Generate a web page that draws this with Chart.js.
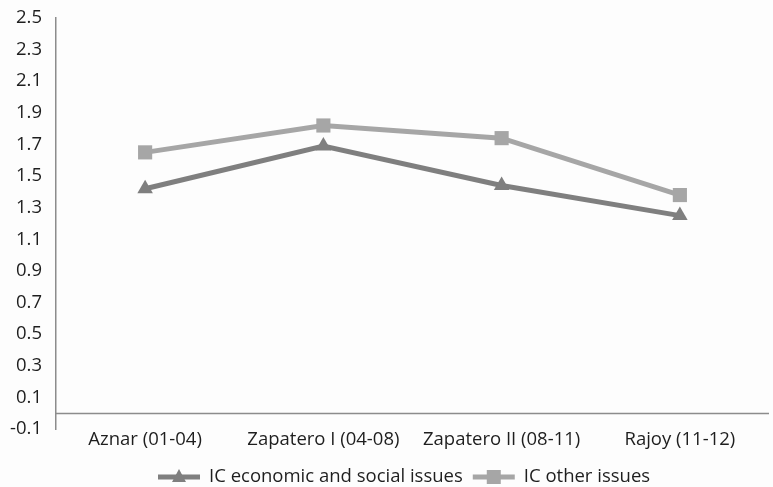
<!DOCTYPE html>
<html>
<head>
<meta charset="utf-8">
<script src="https://cdn.jsdelivr.net/npm/chart.js@4/dist/chart.umd.min.js"></script>
<style>
  html, body { margin: 0; padding: 0; background: #fdfdfd; overflow: hidden; }
  #wrap { width: 779px; height: 487px; }
</style>
</head>
<body>
<div id="wrap"><canvas id="chart" width="779" height="487"></canvas></div>
<script>
const categories = ['Aznar (01-04)', 'Zapatero I (04-08)', 'Zapatero II (08-11)', 'Rajoy (11-12)'];
const economicSocial = [1.42, 1.69, 1.44, 1.25];
const otherIssues = [1.65, 1.82, 1.74, 1.38];
const yTicks = [-0.1, 0.1, 0.3, 0.5, 0.7, 0.9, 1.1, 1.3, 1.5, 1.7, 1.9, 2.1, 2.3, 2.5];

const FONT = '"Open Sans", Lato, sans-serif';
const FSIZE = 18.5;
const DARK = '#7f7f7f';
const LIGHT = '#a6a6a6';

// x axis sits at zero, not at the bottom of the plot area
const zeroLine = {
  id: 'zeroLine',
  beforeDatasetsDraw(chart) {
    const { ctx, chartArea, scales } = chart;
    const y = Math.round(scales.y.getPixelForValue(0)) + 0.5;
    ctx.save();
    ctx.strokeStyle = '#8c8c8c';
    ctx.lineWidth = 1.5;
    ctx.beginPath();
    ctx.moveTo(chartArea.left, y);
    ctx.lineTo(chartArea.right, y);
    ctx.stroke();
    ctx.restore();
  }
};

// legend with line + marker like the original
const lineLegend = {
  id: 'lineLegend',
  afterDraw(chart) {
    const ctx = chart.ctx;
    const y = 477;
    let x = 158;
    ctx.save();
    ctx.font = FSIZE + 'px ' + FONT;
    ctx.textBaseline = 'middle';
    chart.data.datasets.forEach(ds => {
      ctx.strokeStyle = ds.borderColor;
      ctx.lineWidth = 5;
      ctx.beginPath();
      ctx.moveTo(x, y);
      ctx.lineTo(x + 42, y);
      ctx.stroke();
      ctx.fillStyle = ds.borderColor;
      const cx = x + 21;
      if (ds.pointStyle === 'triangle') {
        ctx.beginPath();
        ctx.moveTo(cx, y - 8);
        ctx.lineTo(cx + 7, y + 5);
        ctx.lineTo(cx - 7, y + 5);
        ctx.closePath();
        ctx.fill();
      } else {
        ctx.fillRect(cx - 7, y - 7, 14, 14);
      }
      ctx.fillStyle = '#1e1e1e';
      ctx.fillText(ds.label, x + 51, y);
      x += 51 + ctx.measureText(ds.label).width + 10;
    });
    ctx.restore();
  }
};

new Chart(document.getElementById('chart'), {
  type: 'line',
  data: {
    labels: categories,
    datasets: [
      {
        label: 'IC economic and social issues',
        data: economicSocial,
        borderColor: DARK,
        backgroundColor: DARK,
        borderWidth: 5,
        pointStyle: 'triangle',
        pointRadius: 9,
        pointBorderWidth: 0,
        tension: 0
      },
      {
        label: 'IC other issues',
        data: otherIssues,
        borderColor: LIGHT,
        backgroundColor: LIGHT,
        borderWidth: 5,
        pointStyle: 'rect',
        pointRadius: 10,
        pointBorderWidth: 0,
        tension: 0
      }
    ]
  },
  options: {
    responsive: false,
    animation: false,
    layout: { padding: { top: 18, left: 0, right: 0, bottom: 0 } },
    plugins: { legend: { display: false }, tooltip: { enabled: false } },
    scales: {
      x: {
        offset: true,
        grid: { display: false, drawTicks: false },
        border: { display: false },
        ticks: { color: '#1e1e1e', font: { family: FONT, size: FSIZE }, padding: 0, maxRotation: 0 },
        afterFit(scale) { scale.height = 58; }
      },
      y: {
        min: -0.1,
        max: 2.5,
        afterBuildTicks(scale) { scale.ticks = yTicks.map(v => ({ value: v })); },
        grid: { display: false, drawTicks: false },
        border: { display: true, color: '#8c8c8c', width: 1.5 },
        ticks: {
          color: '#1e1e1e',
          font: { family: FONT, size: FSIZE },
          padding: 14,
          callback: v => v.toFixed(1)
        },
        afterFit(scale) {
          scale.width = 56;
          scale.paddingTop = 0;
          scale.paddingBottom = 0;
        }
      }
    }
  },
  plugins: [zeroLine, lineLegend]
});
</script>
</body>
</html>
